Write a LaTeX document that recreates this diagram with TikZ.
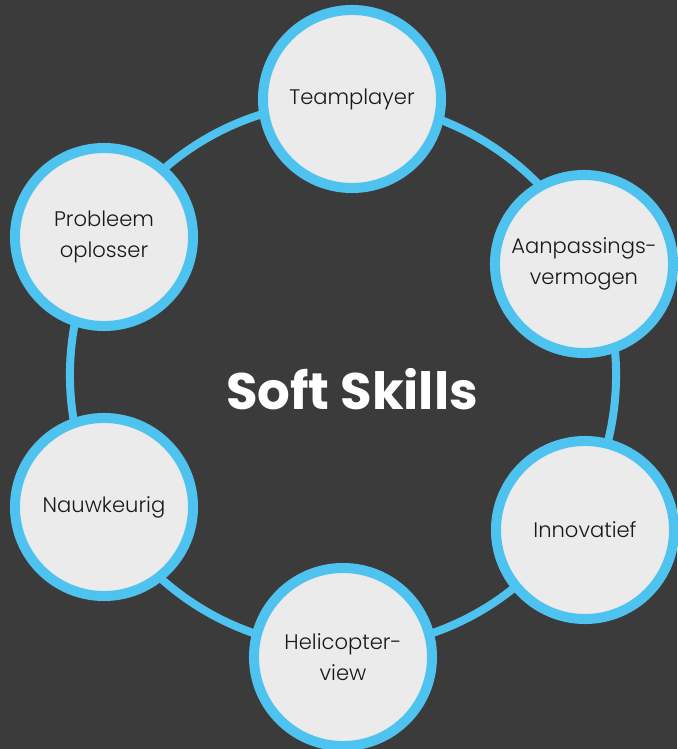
\documentclass[tikz,border=0pt]{standalone}
\usepackage{fontspec}
\setmainfont{Poppins}
\newfontfamily\labelfont{Poppins Light}
\usepackage{xcolor}
\usetikzlibrary{positioning}

\definecolor{bgdark}{HTML}{3B3B3B}
\definecolor{skillblue}{HTML}{4FC3F0}
\definecolor{skillfill}{HTML}{EBEBEB}

\begin{document}
\begin{tikzpicture}[
    x=0.025cm, y=-0.025cm,
    % Ring and skill circle styles
    ring/.style={draw=skillblue, line width=0.2cm},
    skill/.style={circle, draw=skillblue, line width=0.25cm, fill=skillfill,
                  minimum size=4.45cm, inner sep=0pt, outer sep=0pt,
                  align=center, text=black!90, font=\labelfont\fontsize{15}{22}\selectfont},
    title/.style={text=white, font=\fontsize{36.5}{42}\selectfont\bfseries}
]

% Background
\fill[bgdark] (0,0) rectangle (677,749);
\useasboundingbox (0,0) rectangle (677,749);

% Centre of the ring
\coordinate (mid) at (343,375);
\draw[ring] (mid) circle[radius=6.825cm];

% Skill circles
\node[skill] (team)  at (352,99)  {Teamplayer};
\node[skill] (adapt) at (584,264) {Aanpassings-\\vermogen};
\node[skill] (innov) at (585,530) {Innovatief};
\node[skill] (heli)  at (343,657) {Helicopter-\\view};
\node[skill] (exact) at (104,507) {Nauwkeurig};
\node[skill] (solve) at (104,237) {Probleem\\oplosser};

% Title
\node[title] (soft) at (352,389) {Soft Skills};

\end{tikzpicture}
\end{document}
